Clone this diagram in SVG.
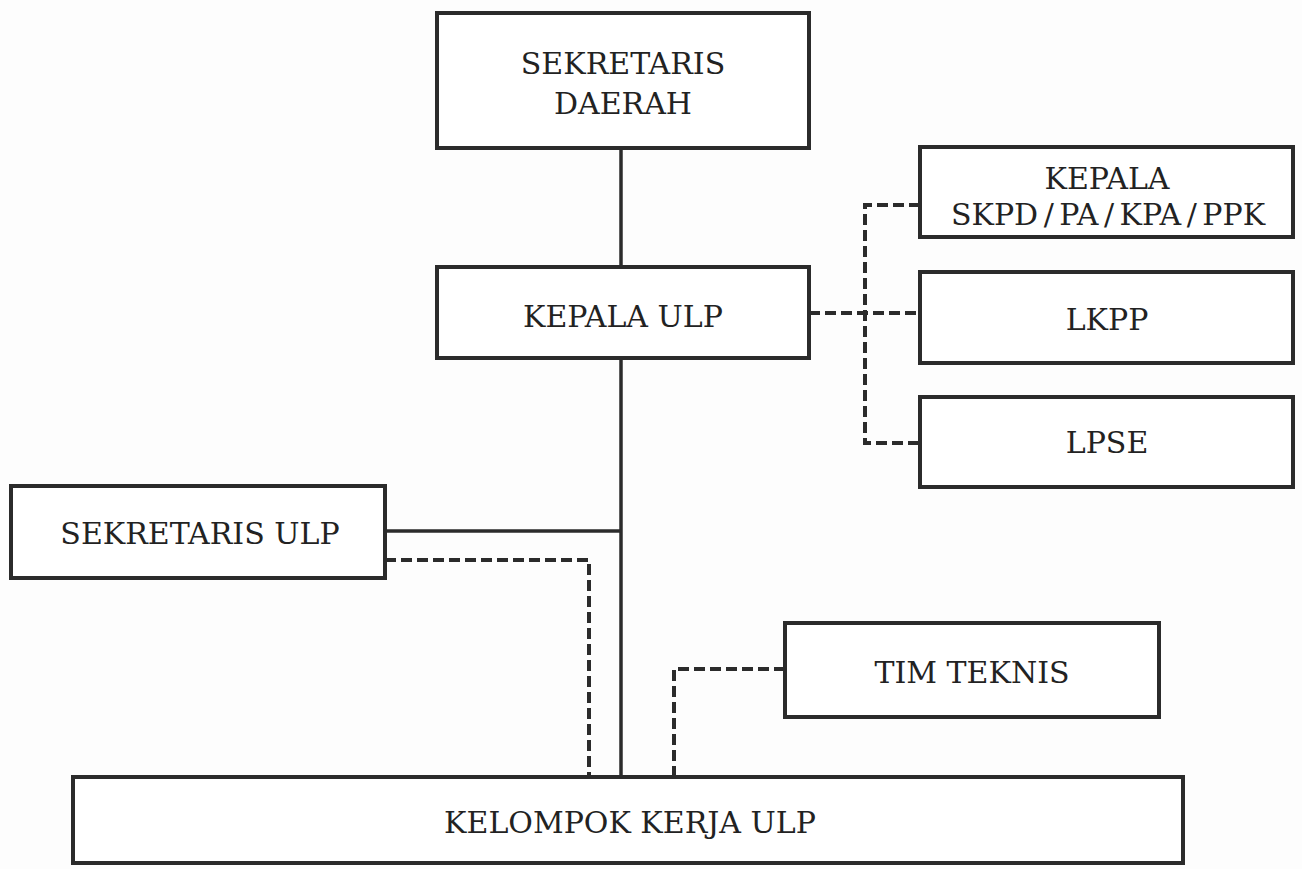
<svg xmlns="http://www.w3.org/2000/svg" width="1302" height="869" viewBox="0 0 1302 869">
<style>
.box{fill:#fff;stroke:#2b2b2b;stroke-width:4}
.t{font-family:"DejaVu Serif","Liberation Serif",serif;font-size:30px;fill:#222;text-anchor:middle}
.solid{fill:none;stroke:#2b2b2b;stroke-width:3.5}
.dash{fill:none;stroke:#2b2b2b;stroke-width:4;stroke-dasharray:11 5}
</style>
<rect width="1302" height="869" fill="#fdfdfd"/>
<g id="connectors">
<line class="solid" x1="621" y1="148" x2="621" y2="267"/>
<line class="solid" x1="621" y1="358" x2="621" y2="777"/>
<line class="solid" x1="385" y1="531" x2="621" y2="531"/>
<polyline class="dash" points="385,560 589,560 589,777"/>
<polyline class="dash" points="785,669 674,669 674,777"/>
<line class="dash" x1="809" y1="313" x2="920" y2="313"/>
<polyline class="dash" points="920,205 865,205 865,443 920,443"/>
</g>
<g id="sekretaris-daerah">
<rect class="box" x="437" y="13" width="372" height="135"/>
<text class="t" x="623" y="74">SEKRETARIS</text>
<text class="t" x="623" y="114">DAERAH</text>
</g>
<g id="kepala-ulp">
<rect class="box" x="437" y="267" width="372" height="91"/>
<text class="t" x="623" y="327">KEPALA ULP</text>
</g>
<g id="kepala-skpd">
<rect class="box" x="920" y="147" width="373" height="90"/>
<text class="t" x="1107" y="189">KEPALA</text>
<text class="t" x="1108" y="225" word-spacing="-4">SKPD / PA / KPA / PPK</text>
</g>
<g id="lkpp">
<rect class="box" x="920" y="272" width="373" height="91"/>
<text class="t" x="1107" y="330">LKPP</text>
</g>
<g id="lpse">
<rect class="box" x="920" y="397" width="373" height="90"/>
<text class="t" x="1107" y="453">LPSE</text>
</g>
<g id="sekretaris-ulp">
<rect class="box" x="11" y="486" width="374" height="92"/>
<text class="t" x="200" y="544">SEKRETARIS ULP</text>
</g>
<g id="tim-teknis">
<rect class="box" x="785" y="623" width="374" height="94"/>
<text class="t" x="972" y="683">TIM TEKNIS</text>
</g>
<g id="kelompok-kerja-ulp">
<rect class="box" x="73" y="777" width="1110" height="86"/>
<text class="t" x="630" y="833">KELOMPOK KERJA ULP</text>
</g>
</svg>
